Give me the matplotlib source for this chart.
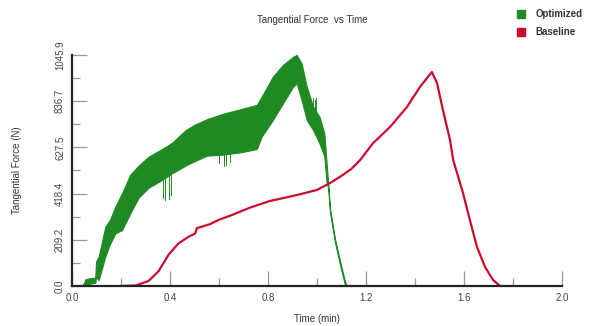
import numpy as np
from matplotlib import pyplot as plt
from matplotlib.ticker import MultipleLocator

plt.rcParams['font.family'] = ['Liberation Sans', 'DejaVu Sans']

# Optimized run: noisy band, read as upper / lower envelope (time in min, force in N)
opt_t = [0.035, 0.048, 0.054, 0.07, 0.095, 0.098, 0.109, 0.136, 0.155, 0.177, 0.204,
         0.238, 0.272, 0.313, 0.367, 0.408, 0.463, 0.50, 0.55, 0.617, 0.686,
         0.754, 0.774, 0.82, 0.861, 0.903, 0.917, 0.937, 0.958, 0.984, 1.01,
         1.03, 1.039, 1.046, 1.053, 1.073, 1.094, 1.114, 1.122]
opt_hi = [0, 10, 30, 35, 38, 110, 133, 269, 300, 360, 420,
          505, 545, 586, 620, 648, 705, 730, 755, 780, 800,
          820, 857, 948, 1001, 1038, 1046, 1008, 903, 812, 767,
          691, 560, 460, 352, 216, 112, 22, 0]
opt_lo = [0, 0, 5, 10, 15, 40, 27, 133, 190, 238, 253,
          329, 400, 445, 480, 510, 545, 565, 590, 595, 605,
          620, 676, 752, 827, 903, 918, 842, 752, 706, 646,
          586, 470, 440, 336, 200, 96, 6, 0]

# downward / upward spikes poking out of the band
spike_t = [0.37, 0.38, 0.395, 0.405, 0.60, 0.62, 0.63, 0.645, 0.985, 0.99, 0.998]
spike_f = [400, 390, 395, 410, 555, 545, 550, 560, 850, 840, 852]

# Baseline run
base_t = [0.20, 0.259, 0.313, 0.354, 0.395, 0.435, 0.476, 0.503, 0.51, 0.563, 0.60,
          0.645, 0.727, 0.808, 0.862, 0.93, 1.0, 1.053, 1.106, 1.14, 1.176, 1.229,
          1.298, 1.367, 1.42, 1.469, 1.49, 1.514, 1.543, 1.556, 1.596, 1.624,
          1.653, 1.686, 1.719, 1.747]
base_f = [0, 2, 23, 68, 143, 193, 223, 238, 262, 280, 300,
          318, 355, 385, 398, 415, 435, 466, 503, 530, 570, 647,
          720, 810, 901, 969, 919, 797, 661, 570, 421, 299,
          177, 86, 27, 0]

yticks = [0.0, 209.2, 418.4, 627.5, 836.7, 1045.9]
xticks = [0.0, 0.4, 0.8, 1.2, 1.6, 2.0]

green = '#1f8a24'
red = '#cc0a2e'

fig = plt.figure(figsize=(5.92, 3.26), dpi=100)
ax = fig.add_axes([0.1216, 0.1227, 0.8277, 0.7086])

ax.fill_between(opt_t, opt_lo, opt_hi, color=green, lw=0.8, edgecolor=green)
for st, sf in zip(spike_t, spike_f):
    ax.plot([st, st], [sf, np.interp(st, opt_t, opt_hi)], color=green, lw=0.7)
ax.plot(base_t, base_f, color=red, lw=1.6)

ax.set_xlim(0, 2.0)
ax.set_ylim(0, 1045.9)
ax.set_xticks(xticks)
ax.set_xticklabels(['%.1f' % v for v in xticks])
ax.xaxis.set_minor_locator(MultipleLocator(0.2))
ax.set_yticks(yticks)
ax.set_yticklabels(['%.1f' % v for v in yticks], rotation=90, va='center')
ax.set_yticks([104.6, 313.8, 523.0, 732.1, 941.3], minor=True)

ax.tick_params(which='major', direction='in', length=11, width=0.9, color='#999999',
               labelsize=7, labelcolor='#444444', pad=5)
ax.tick_params(which='minor', direction='in', length=6, width=0.9, color='#999999')
for s in ['top', 'right']:
    ax.spines[s].set_visible(False)
for s in ['left', 'bottom']:
    ax.spines[s].set_linewidth(1.6)
    ax.spines[s].set_color('#222222')

ax.set_xlabel('Time (min)', fontsize=7, color='#333333', labelpad=8)
ax.set_ylabel('Tangential Force (N)', fontsize=7, color='#333333', labelpad=24)
fig.text(0.527, 0.938, 'Tangential Force  vs Time', fontsize=7, color='#333333', ha='center', va='center')

# legend
fig.patches.append(plt.Rectangle((0.873, 0.945), 0.013, 0.024, color=green, transform=fig.transFigure, figure=fig))
fig.patches.append(plt.Rectangle((0.873, 0.890), 0.013, 0.024, color=red, transform=fig.transFigure, figure=fig))
fig.text(0.905, 0.957, 'Optimized', fontsize=7, fontweight='bold', color='#333333', va='center')
fig.text(0.905, 0.902, 'Baseline', fontsize=7, fontweight='bold', color='#333333', va='center')

plt.savefig('out.png', dpi=100)
